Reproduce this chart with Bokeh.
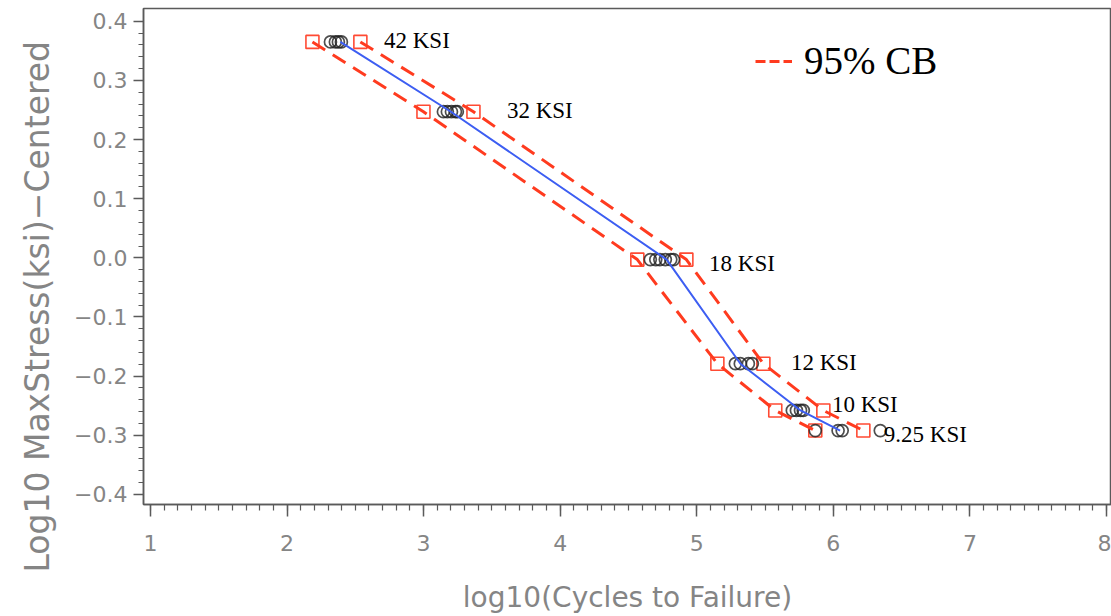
from bokeh.plotting import figure
from bokeh.models import (Range1d, FixedTicker, CustomJSTickFormatter, Legend, LegendItem,
                          ColumnDataSource, Title)
from bokeh.core.properties import value
from bokeh.embed import file_html
from bokeh.resources import INLINE

# ---- data ----
stress_labels = ["42 KSI", "32 KSI", "18 KSI", "12 KSI", "10 KSI", "9.25 KSI"]
log_stress = [0.365, 0.247, -0.003, -0.179, -0.258, -0.292]

cycles_42ksi = [2.318, 2.354, 2.376, 2.398]
cycles_32ksi = [3.145, 3.174, 3.204, 3.233, 3.247]
cycles_18ksi = [4.66, 4.70, 4.73, 4.77, 4.81, 4.83]
cycles_12ksi = [5.283, 5.319, 5.378, 5.407]
cycles_10ksi = [5.70, 5.73, 5.76, 5.78]
cycles_925ksi = [5.868, 6.035, 6.065, 6.344]

mean_cycles = [2.39, 3.20, 4.78, 5.32, 5.76, 6.05]
lower_cb = [2.186, 2.999, 4.565, 5.151, 5.575, 5.868]
upper_cb = [2.537, 3.365, 4.924, 5.488, 5.927, 6.22]

# label anchor positions (layout)
label_x = [2.71, 3.61, 5.09, 5.69, 5.99, 6.37]
label_y = [0.367, 0.249, -0.010, -0.177, -0.248, -0.299]

x_ticks = [1, 2, 3, 4, 5, 6, 7, 8]
y_ticks = [-0.4, -0.3, -0.2, -0.1, 0.0, 0.1, 0.2, 0.3, 0.4]

groups = [cycles_42ksi, cycles_32ksi, cycles_18ksi, cycles_12ksi, cycles_10ksi, cycles_925ksi]
obs_x, obs_y = [], []
for g, ys in zip(groups, log_stress):
    obs_x += g
    obs_y += [ys] * len(g)

p = figure(width=1111, height=616, output_backend="svg", toolbar_location=None,
           x_range=Range1d(0.949, 8.037), y_range=Range1d(-0.417, 0.4215),
           min_border_left=143, min_border_right=0, min_border_top=8, min_border_bottom=112,
           background_fill_color="white", border_fill_color="white")
p.grid.visible = False
p.outline_line_color = "#5a5a5a"
p.outline_line_width = 1.5

GRAY = "#858585"
AX = "#5a5a5a"

p.xaxis.ticker = FixedTicker(ticks=x_ticks, minor_ticks=[1 + i * 0.1 for i in range(71)])
p.yaxis.ticker = FixedTicker(ticks=y_ticks, minor_ticks=[-0.4 + i * 0.02 for i in range(41)])
p.yaxis.formatter = CustomJSTickFormatter(
    code="return (tick < -1e-9 ? '\u2212' : '') + Math.abs(tick).toFixed(1);")
p.xaxis.formatter = CustomJSTickFormatter(code="return tick.toFixed(0);")

for ax in (p.xaxis[0], p.yaxis[0]):
    ax.axis_line_color = AX
    ax.axis_line_width = 1.5
    ax.major_tick_line_color = AX
    ax.minor_tick_line_color = AX
    ax.major_tick_line_width = 1.5
    ax.minor_tick_line_width = 1.2
    ax.major_tick_in = 0
    ax.minor_tick_in = 0
    ax.major_label_text_color = GRAY
    ax.major_label_text_font = "DejaVu Sans"
    ax.major_label_text_font_size = "22px"
    ax.axis_label_text_color = GRAY
    ax.axis_label_text_font = "DejaVu Sans"
    ax.axis_label_text_font_style = "normal"

p.xaxis.major_tick_out = 12
p.xaxis.minor_tick_out = 6
p.xaxis.major_label_standoff = 18
p.xaxis.axis_label = "log10(Cycles to Failure)"
p.xaxis.axis_label_text_font_size = "28px"
p.xaxis.axis_label_standoff = 27

p.yaxis.major_tick_out = 10
p.yaxis.minor_tick_out = 5
p.yaxis.major_label_standoff = 6

# y-axis title (shifted downward like the original)
ytitle = Title(text="Log10 MaxStress(ksi)\u2212Centered", align="left", offset=-68,
               standoff=29, text_font="DejaVu Sans", text_font_size="33px",
               text_font_style="normal", text_color=GRAY)
p.add_layout(ytitle, "left")

RED = "#ff3b1f"
SQ = "#ff4a33"
BLUE = "#3d5ef2"

# CB squares
p.scatter(x=lower_cb + upper_cb, y=log_stress + log_stress, marker="square", size=13,
          fill_color=None, line_color=SQ, line_width=1.6)
# observations
p.scatter(x=obs_x, y=obs_y, marker="circle", size=12, fill_color=None,
          line_color="#222222", line_alpha=0.8, line_width=1.7)
# confidence bands
cb_lo = p.line(x=lower_cb, y=log_stress, line_color=RED, line_width=3, line_dash="15 9")
cb_hi = p.line(x=upper_cb, y=log_stress, line_color=RED, line_width=3, line_dash="15 9")
# mean line
p.line(x=mean_cycles, y=log_stress, line_color=BLUE, line_width=2)

# labels
src = ColumnDataSource(dict(x=label_x, y=label_y, t=stress_labels))
p.text(x="x", y="y", text="t", source=src, text_font=value("Liberation Serif"),
       text_font_size="23px", text_baseline="middle", text_align="left", text_color="black")

# legend
nan = float("nan")
dummy = p.line(x=[nan], y=[nan], line_color=RED, line_width=3, line_dash="10 4")
leg = Legend(items=[LegendItem(label="95% CB", renderers=[dummy])],
             location=(612, 421), padding=0, margin=0, spacing=0,
             glyph_width=37, glyph_height=40, label_height=40, label_standoff=12,
             label_text_font="Liberation Serif", label_text_font_size="39px",
             label_text_color="black", border_line_color=None,
             background_fill_alpha=0)
p.add_layout(leg)

open("out.html", "w").write(file_html(p, INLINE))
